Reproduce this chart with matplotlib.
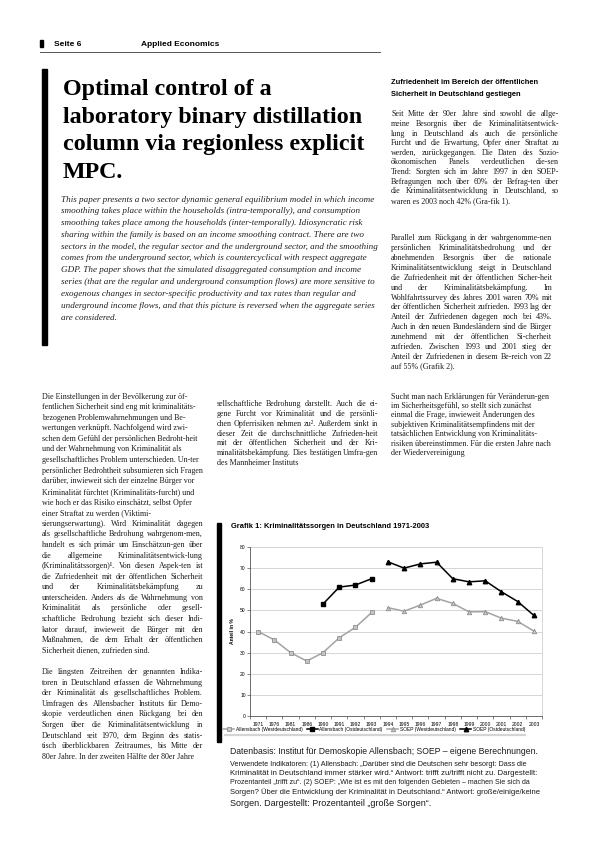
import matplotlib
matplotlib.use("Agg")
import matplotlib.pyplot as plt
import numpy as np

W, H = 595, 842
SERIF = "Liberation Serif"
SANS = "Liberation Sans"

# --- chart data (Grafik 1) ---
years = ["1971", "1976", "1981", "1986", "1990", "1991", "1992", "1993", "1994",
         "1995", "1996", "1997", "1998", "1999", "2000", "2001", "2002", "2003"]
nan = np.nan
allensbach_west = [40, 36, 30, 26, 30, 37, 42, 49] + [nan] * 10
allensbach_ost = [nan] * 4 + [53, 61, 62, 65] + [nan] * 10
soep_west = [nan] * 8 + [51.3, 49.6, 52.5, 55.7, 53.3, 49.3, 49.4, 46.3, 44.8, 40.2]
soep_ost = [nan] * 8 + [73, 70, 72, 72.8, 65, 63.5, 64, 58.8, 54.2, 47.6]
series_labels = ["Allensbach (Westdeutschland)", "Allensbach (Ostdeutschland)",
                 "SOEP (Westdeutschland)", "SOEP (Ostdeutschland)"]

# --- page text ---
title_lines = ["Optimal control of a", "laboratory binary distillation",
               "column via regionless explicit", "MPC."]

abstract = [
    "This paper presents a two sector dynamic general equilibrium model in which income",
    "smoothing takes place within the households (intra-temporally), and consumption",
    "smoothing takes place among the households (inter-temporally). Idiosyncratic risk",
    "sharing within the family is based on an income smoothing contract. There are two",
    "sectors in the model, the regular sector and the underground sector, and the smoothing",
    "comes from the underground sector, which is countercyclical with respect aggregate",
    "GDP. The paper shows that the simulated disaggregated consumption and income",
    "series (that are the regular and underground consumption flows) are more sensitive to",
    "exogenous changes in sector-specific productivity and tax rates than regular and",
    "underground income flows, and that this picture is reversed when the aggregate series",
    "are considered.",
]

right_head = ["Zufriedenheit im Bereich der öffentlichen",
              "Sicherheit in Deutschland gestiegen"]

right_p1 = [
    "Seit Mitte der 90er Jahre sind sowohl die allge-",
    "meine Besorgnis über die Kriminalitätsentwick-",
    "lung in Deutschland als auch die persönliche",
    "Furcht und die Erwartung, Opfer einer Straftat zu",
    "werden, zurückgegangen. Die Daten des Sozio-",
    "ökonomischen Panels verdeutlichen die-sen",
    "Trend: Sorgten sich im Jahre 1997 in den SOEP-",
    "Befragungen noch über 60% der Befrag-ten über",
    "die Kriminalitätsentwicklung in Deutschland, so",
    "waren es 2003 noch 42% (Gra-fik 1).",
]
right_p2 = [
    "Parallel zum Rückgang in der wahrgenomme-nen",
    "persönlichen Kriminalitätsbedrohung und der",
    "abnehmenden Besorgnis über die nationale",
    "Kriminalitätsentwicklung steigt in Deutschland",
    "die Zufriedenheit mit der öffentlichen Sicher-heit",
    "und der Kriminalitätsbekämpfung. Im",
    "Wohlfahrtssurvey des Jahres 2001 waren 70% mit",
    "der öffentlichen Sicherheit zufrieden. 1993 lag der",
    "Anteil der Zufriedenen dagegen noch bei 43%.",
    "Auch in den neuen Bundesländern sind die Bürger",
    "zunehmend mit der öffentlichen Si-cherheit",
    "zufrieden. Zwischen 1993 und 2001 stieg der",
    "Anteil der Zufriedenen in diesem Be-reich von 22",
    "auf 55% (Grafik 2).",
]
right_p3 = [
    "Sucht man nach Erklärungen für Veränderun-gen",
    "im Sicherheitsgefühl, so stellt sich zunächst",
    "einmal die Frage, inwieweit Änderungen des",
    "subjektiven Kriminalitätsempfindens mit der",
    "tatsächlichen Entwicklung von Kriminalitäts-",
    "risiken übereinstimmen. Für die ersten Jahre nach",
    "der Wiedervereinigung",
]

left_p1 = [
    "Die Einstellungen in der Bevölkerung zur öf-",
    "fentlichen Sicherheit sind eng mit kriminalitäts-",
    "bezogenen Problemwahrnehmungen und Be-",
    "wertungen verknüpft. Nachfolgend wird zwi-",
    "schen dem Gefühl der persönlichen Bedroht-heit",
    "und der Wahrnehmung von Kriminalität als",
    "gesellschaftliches Problem unterschieden. Un-ter",
    "persönlicher Bedrohtheit subsumieren sich Fragen",
    "darüber, inwieweit sich der einzelne Bürger vor",
    "Kriminalität fürchtet (Kriminalitäts-furcht) und",
    "wie hoch er das Risiko einschätzt, selbst Opfer",
    "einer Straftat zu werden (Viktimi-",
]
left_p2 = [
    "sierungserwartung). Wird Kriminalität dagegen",
    "als gesellschaftliche Bedrohung wahrgenom-men,",
    "handelt es sich primär um Einschätzun-gen über",
    "die allgemeine Kriminalitätsentwick-lung",
    "(Kriminalitätssorgen)¹. Von diesen Aspek-ten ist",
    "die Zufriedenheit mit der öffentlichen Sicherheit",
    "und der Kriminalitätsbekämpfung zu",
    "unterscheiden. Anders als die Wahrnehmung von",
    "Kriminalität als persönliche oder gesell-",
    "schaftliche Bedrohung bezieht sich dieser Indi-",
    "kator darauf, inwieweit die Bürger mit den",
    "Maßnahmen, die dem Erhalt der öffentlichen",
    "Sicherheit dienen, zufrieden sind.",
]
left_p3 = [
    "Die längsten Zeitreihen der genannten Indika-",
    "toren in Deutschland erfassen die Wahrnehmung",
    "der Kriminalität als gesellschaftliches Problem.",
    "Umfragen des Allensbacher Instituts für Demo-",
    "skopie verdeutlichen einen Rückgang bei den",
    "Sorgen über die Kriminalitätsentwicklung in",
    "Deutschland seit 1970, dem Beginn des statis-",
    "tisch überblickbaren Zeitraumes, bis Mitte der",
    "80er Jahre. In der zweiten Hälfte der 80er Jahre",
]
mid_p1 = [
    "sellschaftliche Bedrohung darstellt. Auch die ei-",
    "gene Furcht vor Kriminalität und die persönli-",
    "chen Opferrisiken nehmen zu². Außerdem sinkt in",
    "dieser Zeit die durchschnittliche Zufrieden-heit",
    "mit der öffentlichen Sicherheit und der Kri-",
    "minalitätsbekämpfung. Dies bestätigen Umfra-gen",
    "des Mannheimer Instituts",
]

caption = [
    ("Datenbasis: Institut für Demoskopie Allensbach; SOEP – eigene Berechnungen.", 6.2),
    ("Verwendete Indikatoren: (1) Allensbach: „Darüber sind die Deutschen sehr besorgt: Dass die", 5.2),
    ("Kriminalität in Deutschland immer stärker wird.“ Antwort: trifft zu/trifft nicht zu. Dargestellt:", 5.6),
    ("Prozentanteil „trifft zu“. (2) SOEP: „Wie ist es mit den folgenden Gebieten – machen Sie sich da", 5.0),
    ("Sorgen? Über die Entwicklung der Kriminalität in Deutschland.“ Antwort: große/einige/keine", 5.5),
    ("Sorgen. Dargestellt: Prozentanteil „große Sorgen“.", 6.5),
]

fig = plt.figure(figsize=(W / 100, H / 100), dpi=100)
rend = fig.canvas.get_renderer()


def fx(x):
    return x / W


def fy(y):
    return 1 - y / H


def put_line(x0, x1, y, s, just, **kw):
    # y is the baseline in pixels from the top
    words = s.split()
    if not just or len(words) < 2:
        fig.text(fx(x0), fy(y), s, va="baseline", ha="left", **kw)
        return
    ts = [fig.text(0, 0, w, va="baseline", ha="left", **kw) for w in words]
    ws = [t.get_window_extent(rend).width for t in ts]
    gap = (x1 - x0 - sum(ws)) / (len(words) - 1)
    x = x0
    for t, w in zip(ts, ws):
        t.set_position((fx(x), fy(y)))
        x += w + gap


def para(x0, x1, y0, dy, lines, just=True, **kw):
    for i, s in enumerate(lines):
        put_line(x0, x1, y0 + i * dy, s, just and i < len(lines) - 1, **kw)


body = dict(family=SERIF, fontsize=5.75, color="#1a1a1a")

# header
fig.patches.append(plt.Rectangle((fx(40), fy(47)), 3 / W, 7 / H, transform=fig.transFigure,
                                 color="black"))
fig.text(fx(54), fy(46), "Seite 6", family=SANS, weight="bold", fontsize=6, va="baseline")
fig.text(fx(141), fy(46), "Applied Economics", family=SANS, weight="bold", fontsize=6,
         va="baseline")
fig.add_artist(plt.Line2D([fx(40), fx(380)], [fy(51.5), fy(51.5)], color="#555555", lw=0.7))

# title block
fig.patches.append(plt.Rectangle((fx(42), fy(345)), 4.5 / W, (345 - 69) / H,
                                 transform=fig.transFigure, color="black"))
for i, s in enumerate(title_lines):
    fig.text(fx(63), fy(95 + i * 27.7), s, family=SERIF, weight="bold", fontsize=17.3,
             va="baseline")
for i, s in enumerate(abstract):
    fig.text(fx(61), fy(201.5 + i * 11.8), s, family=SERIF, style="italic", fontsize=6.6,
             va="baseline", color="#222222")

# right column
for i, s in enumerate(right_head):
    fig.text(fx(391), fy(83.5 + i * 12), s, family=SANS, weight="bold", fontsize=5.4,
             va="baseline")
para(391, 559, 116.5, 9.6, right_p1, **body)
para(391, 552, 240.5, 9.85, right_p2, **body)
para(391, 552, 398.5, 9.4, right_p3, just=False, **body)

# left column
para(42, 203, 398.5, 10.6, left_p1, just=False, **body)
para(42, 203, 398.5 + 12 * 10.6, 10.6, left_p2, **body)
para(42, 203, 398.5 + 26 * 10.6, 10.6, left_p3, **body)

# middle column
para(217, 378, 406.5, 9.7, mid_p1, **body)

# chart frame decorations
fig.patches.append(plt.Rectangle((fx(217), fy(742)), 4 / W, (742 - 523) / H,
                                 transform=fig.transFigure, color="black"))
fig.text(fx(231), fy(528.5), "Grafik 1: Kriminalitätssorgen in Deutschland 1971-2003",
         family=SANS, weight="bold", fontsize=5.4, va="baseline")

ax = fig.add_axes([fx(250), fy(716), (542 - 250) / W, (716 - 547) / H])
x = np.arange(len(years))
gray = "#a3a3a3"
ax.plot(x, allensbach_west, color=gray, lw=1.1, marker="s", ms=3, mfc="#c4c4c4",
        mec="#8f8f8f", mew=0.6, label=series_labels[0])
ax.plot(x, allensbach_ost, color="black", lw=1.1, marker="s", ms=3, mfc="black",
        mec="black", label=series_labels[1])
ax.plot(x, soep_west, color=gray, lw=1.1, marker="^", ms=3.2, mfc="#c4c4c4", mec="#8f8f8f",
        mew=0.6, label=series_labels[2])
ax.plot(x, soep_ost, color="black", lw=1.1, marker="^", ms=3.2, mfc="black", mec="black",
        label=series_labels[3])
ax.set_xlim(-0.43, 17.49)
ax.set_ylim(0, 80)
ax.set_yticks(range(0, 81, 10))
ax.grid(axis="y", color="#cfcfcf", lw=0.6)
ax.set_axisbelow(True)
ax.set_xticks(x)
ax.set_xticklabels(years, family=SANS, fontsize=3.6)
ax.set_xticks(np.arange(-0.5, 18, 1), minor=True)
ax.tick_params(axis="x", which="major", length=0, pad=4)
ax.tick_params(axis="x", which="minor", length=2, width=0.5, color="#555555")
ax.tick_params(axis="y", labelsize=3.6, length=2, width=0.5, pad=1, color="#555555")
for lab in ax.get_yticklabels():
    lab.set_family(SANS)
ax.spines["top"].set_visible(False)
ax.spines["right"].set_color("#cfcfcf")
ax.spines["right"].set_linewidth(0.6)
for side in ["left", "bottom"]:
    ax.spines[side].set_color("#555555")
    ax.spines[side].set_linewidth(0.6)
ax.set_ylabel("Anteil in %", family=SANS, weight="bold", fontsize=3.6, labelpad=4)
fig.legend(loc="center", bbox_to_anchor=(fx(374), fy(729.5)), ncol=4, frameon=False,
           prop={"family": SANS, "size": 3.5}, handlelength=2.3, columnspacing=0.9,
           handletextpad=0.3, borderpad=0)
fig.add_artist(plt.Line2D([fx(225), fx(525)], [fy(735), fy(735)], color="#d4d4d4", lw=1.6))

# caption
cap_y = [753.5, 765.5, 775, 784, 794, 806]
for (s, sz), yy in zip(caption, cap_y):
    fig.text(fx(230), fy(yy), s, family=SANS, fontsize=sz, va="baseline", color="#1a1a1a")

fig.savefig("out.png", dpi=100, facecolor="white")
